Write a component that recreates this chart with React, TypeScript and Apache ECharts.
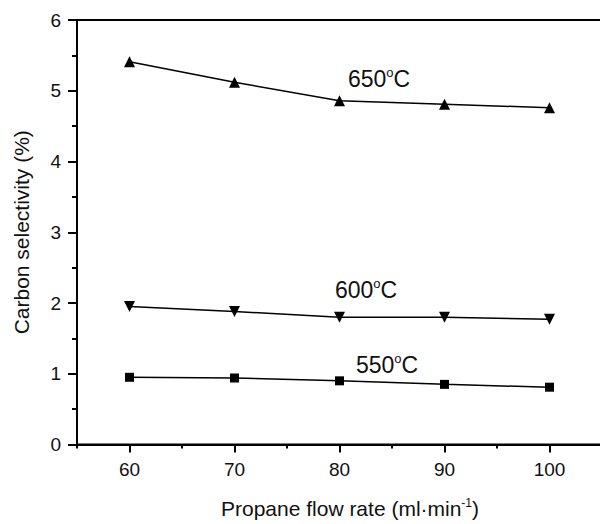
import React, { useEffect, useRef } from "react";
import * as echarts from "echarts";

const flowRates = [60, 70, 80, 90, 100];
const sel650 = [5.41, 5.12, 4.86, 4.81, 4.76];
const sel600 = [1.95, 1.88, 1.8, 1.8, 1.77];
const sel550 = [0.95, 0.94, 0.9, 0.85, 0.81];
const majorXTicks = [60, 70, 80, 90, 100];
const minorXTicks = [55, 65, 75, 85, 95, 105];

const FONT = "Liberation Sans";

export default function App() {
  const ref = useRef<HTMLDivElement>(null);
  useEffect(() => {
    if (!ref.current) return;
    const chart = echarts.init(ref.current, null, { renderer: "svg" });
    const pair = (ys: number[]) => flowRates.map((x, i) => [x, ys[i]]);
    const lineStyle = { color: "#000", width: 1.5 };
    const tempLabel = (t: string, x: number, y: number) => ({
      type: "text",
      x,
      y,
      style: {
        text: `${t}{s|o}C`,
        fontSize: 23,
        fontFamily: FONT,
        fill: "#111",
        verticalAlign: "middle",
        rich: { s: { fontSize: 13, fontFamily: FONT, padding: [0, 0, 13, 0], fill: "#111" } },
      },
    });
    chart.setOption({
      animation: false,
      textStyle: { fontFamily: FONT },
      grid: {
        left: 77,
        top: 20,
        width: 546,
        height: 428,
        show: true,
        borderColor: "#000",
        borderWidth: 2,
      },
      xAxis: [
        {
          type: "value",
          min: 55,
          max: 107,
          position: "bottom",
          name: "Propane flow rate (ml·min{s|-1})",
          nameLocation: "middle",
          nameGap: 52,
          nameTextStyle: {
            fontSize: 21,
            color: "#111",
            fontFamily: FONT,
            rich: { s: { fontSize: 12, padding: [0, 0, 12, 0], color: "#111", fontFamily: FONT } },
          },
          axisLine: { lineStyle: { color: "#000", width: 2 } },
          axisTick: { customValues: majorXTicks, length: 8, lineStyle: { color: "#000", width: 2 } },
          axisLabel: { customValues: majorXTicks, fontSize: 19, color: "#111", margin: 15, fontFamily: FONT },
          splitLine: { show: false },
        },
        {
          type: "value",
          min: 55,
          max: 107,
          position: "bottom",
          gridIndex: 0,
          axisLine: { show: false },
          axisTick: { customValues: minorXTicks, length: 4, lineStyle: { color: "#000", width: 2 } },
          axisLabel: { show: false },
          splitLine: { show: false },
        },
      ],
      yAxis: {
        type: "value",
        min: 0,
        max: 6,
        interval: 1,
        name: "Carbon selectivity (%)",
        nameLocation: "middle",
        nameGap: 45,
        nameTextStyle: { fontSize: 21, color: "#111", fontFamily: FONT },
        axisLine: { show: true, lineStyle: { color: "#000", width: 2 } },
        axisTick: { show: true, length: 9, lineStyle: { color: "#000", width: 2 } },
        minorTick: { show: true, splitNumber: 2, length: 5, lineStyle: { color: "#000", width: 2 } },
        axisLabel: { fontSize: 19, color: "#111", margin: 16, fontFamily: FONT },
        splitLine: { show: false },
      },
      series: [
        {
          type: "line",
          data: pair(sel650),
          symbol: "triangle",
          symbolSize: 11,
          itemStyle: { color: "#000" },
          lineStyle,
        },
        {
          type: "line",
          data: pair(sel600),
          symbol: "triangle",
          symbolRotate: 180,
          symbolSize: 11,
          itemStyle: { color: "#000" },
          lineStyle,
        },
        {
          type: "line",
          data: pair(sel550),
          symbol: "rect",
          symbolSize: 9,
          itemStyle: { color: "#000" },
          lineStyle,
        },
      ],
      graphic: [
        tempLabel("650", 348, 79),
        tempLabel("600", 335, 290),
        tempLabel("550", 356, 365),
      ],
    });
    return () => chart.dispose();
  }, []);
  return (
    <div style={{ position: "fixed", left: 0, top: 0, width: 600, height: 524, overflow: "hidden", background: "#fff" }}>
      <div ref={ref} style={{ width: 660, height: 524 }} />
    </div>
  );
}
